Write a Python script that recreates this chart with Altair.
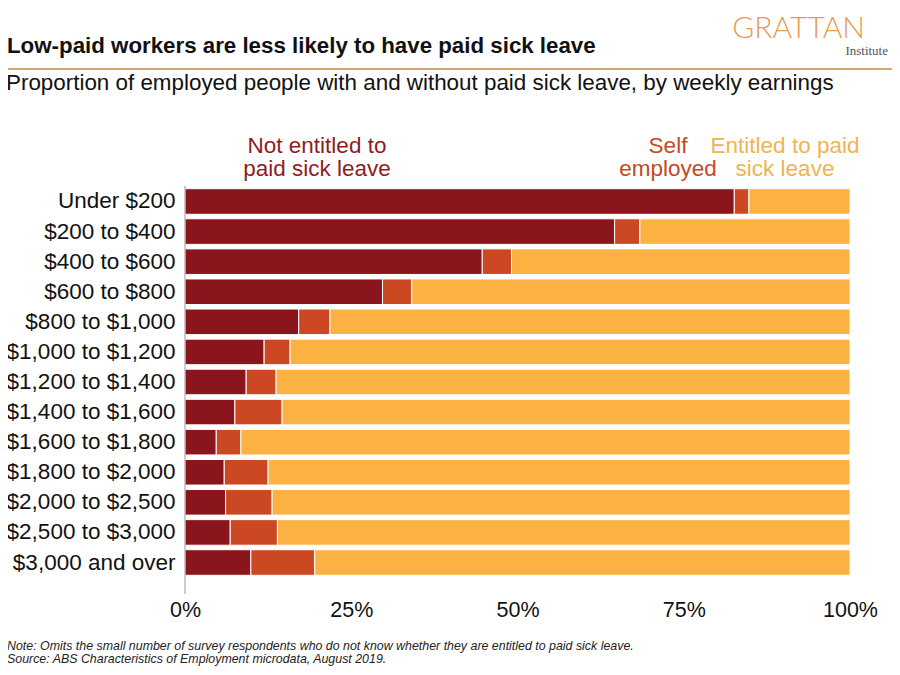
import altair as alt
import pandas as pd

categories = ["Under $200", "$200 to $400", "$400 to $600", "$600 to $800",
              "$800 to $1,000", "$1,000 to $1,200", "$1,200 to $1,400",
              "$1,400 to $1,600", "$1,600 to $1,800", "$1,800 to $2,000",
              "$2,000 to $2,500", "$2,500 to $3,000", "$3,000 and over"]
not_entitled = [82.6, 64.6, 44.7, 29.7, 17.1, 11.9, 9.2, 7.5, 4.7, 5.9, 6.1, 6.8, 9.9]
self_employed = [2.2, 3.8, 4.4, 4.4, 4.7, 3.9, 4.5, 7.1, 3.7, 6.6, 7.0, 7.1, 9.6]
entitled = [15.2, 31.6, 50.9, 65.9, 78.2, 84.2, 86.3, 85.4, 91.6, 87.5, 86.9, 86.1, 80.5]

series_names = ["Not entitled to paid sick leave", "Self employed", "Entitled to paid sick leave"]
series_colors = ["#8B151C", "#CB4822", "#FBB243"]
label_colors = ["#8E1D22", "#C24A22", "#F0B452"]

rows = []
for i, c in enumerate(categories):
    for k, vals in enumerate([not_entitled, self_employed, entitled]):
        rows.append({"cat": c, "series": series_names[k], "order": k, "value": vals[i]})
df = pd.DataFrame(rows)

FONT = "Liberation Sans"

bars = alt.Chart(df).mark_bar(stroke="white", strokeWidth=1).encode(
    y=alt.Y("cat:N", sort=categories,
            scale=alt.Scale(paddingInner=0.15, paddingOuter=0.09),
            axis=alt.Axis(title=None, ticks=False, domain=False, labelFontSize=22.5,
                          labelColor="#111111", labelPadding=10, labelFont=FONT,
                          labelLimit=300)),
    x=alt.X("value:Q", stack="zero",
            scale=alt.Scale(domain=[0, 100], nice=False),
            axis=alt.Axis(title=None, values=[0, 25, 50, 75, 100], ticks=False, domain=False,
                          grid=False, labelFontSize=21.5, labelColor="#111111",
                          labelPadding=21, labelFlush=False, labelFont=FONT,
                          labelExpr="datum.value + '%'")),
    color=alt.Color("series:N", scale=alt.Scale(domain=series_names, range=series_colors), legend=None),
    order=alt.Order("order:Q"),
)

axis_line = alt.Chart(pd.DataFrame({"a": [0]})).mark_rule(color="#9a9a9a", strokeWidth=1).encode(
    x=alt.value(0), y=alt.value(0), y2=alt.value(408))

def txt(t, x, y, size, color="#111111", align="left", weight="normal", style="normal",
        font=FONT, lh=None):
    kw = dict(align=align, baseline="alphabetic", fontSize=size, color=color,
              fontWeight=weight, fontStyle=style, font=font, lineBreak="\n")
    if lh:
        kw["lineHeight"] = lh
    return alt.Chart(pd.DataFrame({"t": [t]})).mark_text(**kw).encode(
        text="t:N", x=alt.value(x), y=alt.value(y))

OX, OY = 185, 186
title = txt("Low-paid workers are less likely to have paid sick leave", 7 - OX, 53 - OY, 22.3,
            weight="bold")
subtitle = txt("Proportion of employed people with and without paid sick leave, by weekly earnings",
               6 - OX, 90 - OY, 22.4)
title_line = alt.Chart(pd.DataFrame({"a": [0]})).mark_rule(color="#DDA46A", strokeWidth=2).encode(
    x=alt.value(5 - OX), x2=alt.value(893 - OX), y=alt.value(69 - OY))
logo = txt("GRATTAN", 865 - OX, 38 - OY, 30, color="#E69B52", align="right", weight=300, font="Lato")
inst = txt("Institute", 888 - OX, 55 - OY, 13, color="#555555", align="right", font="Liberation Serif")

leg1 = txt("Not entitled to\npaid sick leave", 317 - OX, 153 - OY, 22.5, color=label_colors[0],
           align="center", lh=23)
leg2 = txt("Self\nemployed", 668 - OX, 153 - OY, 22.5, color=label_colors[1], align="center", lh=23)
leg3 = txt("Entitled to paid\nsick leave", 785 - OX, 153 - OY, 22.5, color=label_colors[2],
           align="center", lh=23)

note = txt("Note: Omits the small number of survey respondents who do not know whether they are entitled to paid sick leave.\nSource: ABS Characteristics of Employment microdata, August 2019.",
           7 - OX, 650 - OY, 12.4, color="#222222", style="italic", lh=13)

chart = alt.layer(bars, axis_line, title, subtitle, title_line, logo, inst, leg1, leg2, leg3, note).properties(
    width=665, height=392,
    autosize=alt.AutoSizeParams(type="none"),
    padding={"left": 177, "top": 178, "right": 42, "bottom": 89},
    background="white",
).configure_view(stroke=None)

chart.save("out.html", embed_options={"renderer": "svg", "actions": False})
